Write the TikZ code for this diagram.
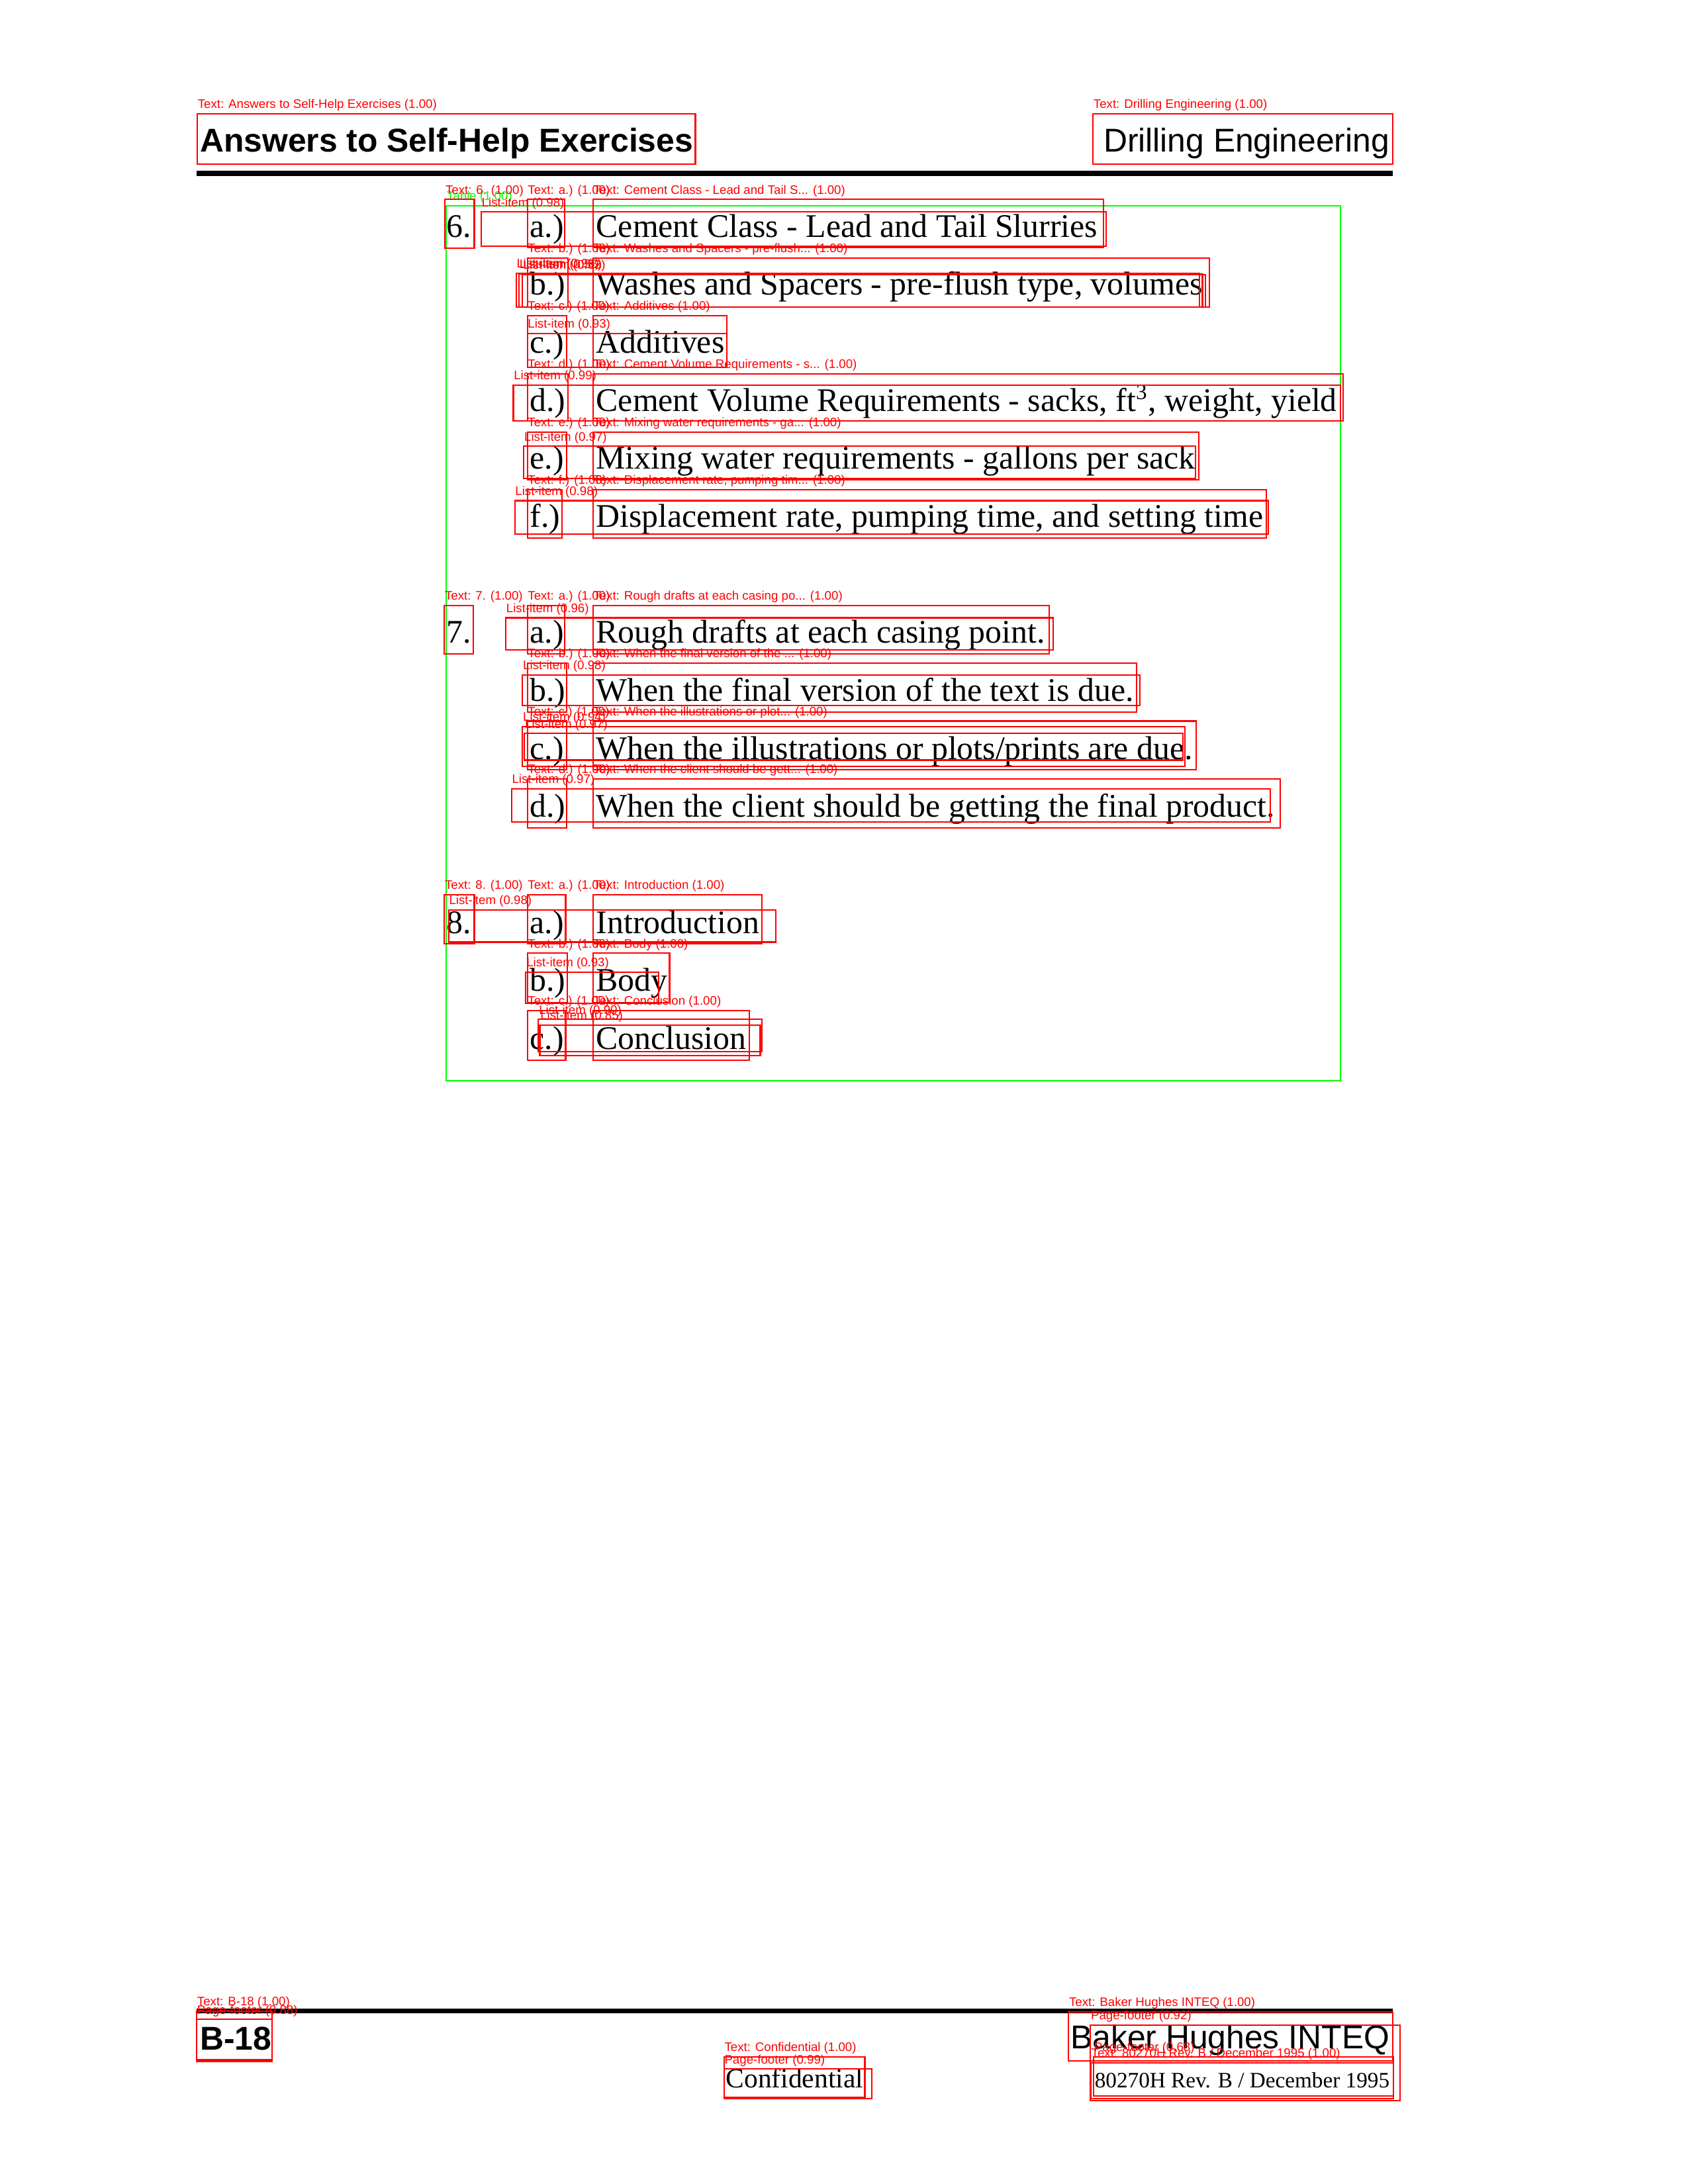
\documentclass[tikz,border=0pt]{standalone}
\usepackage{fontspec}
\setmainfont{Liberation Serif}
\newfontfamily\helv{Liberation Sans}
\newcommand{\labfont}{\helv\fontsize{4.5}{4.5}\selectfont}
\newcommand{\bodyfont}{\fontsize{12}{14}\selectfont}
% detection box: top left, bottom right, label name, label text
\newcommand{\dbox}[4]{\draw[detbox] (#1) rectangle (#2); \node[detlab] (#3) at (#1) {#4};}

\begin{document}
\begin{tikzpicture}[x=0.017843cm,y=-0.017843cm,
  body/.style={anchor=base west,inner sep=0,font=\bodyfont},
  detbox/.style={draw=red,line width=.5pt},
  detlab/.style={anchor=base west,inner sep=0,yshift=2pt,text=red,font=\labfont}]
\useasboundingbox (0,0) rectangle (1210,1566);
% page header
\node[anchor=base west,inner sep=0,font=\helv\bfseries\bodyfont] (title) at (143,108.7) {Answers to Self-Help Exercises};
\node[anchor=base east,inner sep=0,font=\helv\bodyfont] (course) at (996.5,108.7) {Drilling Engineering};
\draw[line width=1.75pt] (141,124.3)--(998.5,124.3);
% answers 6
\node[body] (n6) at (319.5,170) {6.};
\node[body] (l6a) at (379.5,170) {a.)};
\node[body] (t6a) at (427,170) {Cement Class - Lead and Tail Slurries};
\node[body] (l6b) at (379.5,211.6) {b.)};
\node[body] (t6b) at (427,211.6) {Washes and Spacers - pre-flush type, volumes};
\node[body] (l6c) at (379.5,253.2) {c.)};
\node[body] (t6c) at (427,253.2) {Additives};
\node[body] (l6d) at (379.5,294.8) {d.)};
\node[body] (t6d) at (427,294.8) {Cement Volume Requirements - sacks, ft\textsuperscript{3}, weight, yield};
\node[body] (l6e) at (379.5,336.4) {e.)};
\node[body] (t6e) at (427,336.4) {Mixing water requirements - gallons per sack};
\node[body] (l6f) at (379.5,378) {f.)};
\node[body] (t6f) at (427,378) {Displacement rate, pumping time, and setting time};
% answers 7
\node[body] (n7) at (319.5,461.2) {7.};
\node[body] (l7a) at (379.5,461.2) {a.)};
\node[body] (t7a) at (427,461.2) {Rough drafts at each casing point.};
\node[body] (l7b) at (379.5,502.8) {b.)};
\node[body] (t7b) at (427,502.8) {When the final version of the text is due.};
\node[body] (l7c) at (379.5,544.4) {c.)};
\node[body] (t7c) at (427,544.4) {When the illustrations or plots/prints are due.};
\node[body] (l7d) at (379.5,586) {d.)};
\node[body] (t7d) at (427,586) {When the client should be getting the final product.};
% answers 8
\node[body] (n8) at (319.5,669.2) {8.};
\node[body] (l8a) at (379.5,669.2) {a.)};
\node[body] (t8a) at (427,669.2) {Introduction};
\node[body] (l8b) at (379.5,710.8) {b.)};
\node[body] (t8b) at (427,710.8) {Body};
\node[body] (l8c) at (379.5,752.4) {c.)};
\node[body] (t8c) at (427,752.4) {Conclusion};
% page footer
\draw[line width=1.75pt] (141,1442)--(998.5,1442);
\node[anchor=base west,inner sep=0,font=\helv\bfseries\bodyfont] (page) at (143,1469.8) {B-18};
\node[anchor=base west,inner sep=0,font=\fontsize{10}{12}\selectfont] (conf) at (520,1497) {Confidential};
\node[anchor=base east,inner sep=0,font=\helv\bodyfont] (firm) at (996.5,1469) {Baker Hughes INTEQ};
\node[anchor=base east,inner sep=0,font=\fontsize{8}{10}\selectfont] (rev) at (996.5,1497) {80270H Rev. B / December 1995};
% detections
\dbox{141.4,81.5}{498.5,117.6}{d1}{Text: Answers to Self-Help Exercises (1.00)}
\dbox{783.5,81.5}{998.6,117.6}{d2}{Text: Drilling Engineering (1.00)}
\draw[draw=green,line width=.5pt] (320,147.6) rectangle (961,775);
\node[detlab,text=green] (dtab) at (320,147.6) {Table (1.00)};
\dbox{319,143}{340,178}{d3}{Text: 6. (1.00)}
\dbox{378,143}{405,177.5}{d4}{Text: a.) (1.00)}
\dbox{425,143}{791,177.5}{d5}{Text: Cement Class - Lead and Tail S... (1.00)}
\dbox{345,152}{793,176.5}{d6}{List-item (0.98)}
\dbox{378,185}{407,220}{d7}{Text: b.) (1.00)}
\dbox{425,185}{867,220}{d8}{Text: Washes and Spacers - pre-flush... (1.00)}
\dbox{370,196}{860,220}{d9}{List-item (0.98)}
\dbox{372,196.5}{862,220}{d10}{List-item (0.56)}
\dbox{374.5,197}{864,220}{d11}{List-item (0.53)}
\dbox{378,226.5}{406,263.5}{d12}{Text: c.) (1.00)}
\dbox{425,226.5}{521,263.5}{d13}{Text: Additives (1.00)}
\dbox{378,239}{521,263.5}{d14}{List-item (0.93)}
\dbox{378,268}{407,302}{d15}{Text: d.) (1.00)}
\dbox{425,268}{963,302}{d16}{Text: Cement Volume Requirements - s... (1.00)}
\dbox{368,276}{961,302}{d17}{List-item (0.99)}
\dbox{378,310}{406,344}{d18}{Text: e.) (1.00)}
\dbox{425,310}{859.6,344}{d19}{Text: Mixing water requirements - ga... (1.00)}
\dbox{375.5,320}{857,343}{d20}{List-item (0.97)}
\dbox{378,351}{403,386}{d21}{Text: f.) (1.00)}
\dbox{425,351}{908,386}{d22}{Text: Displacement rate, pumping tim... (1.00)}
\dbox{369,359}{909,383}{d23}{List-item (0.98)}
\dbox{318.5,434}{339.5,469}{d24}{Text: 7. (1.00)}
\dbox{378,434}{405,469}{d25}{Text: a.) (1.00)}
\dbox{425,434}{752,469}{d26}{Text: Rough drafts at each casing po... (1.00)}
\dbox{362.6,443}{755,466}{d27}{List-item (0.96)}
\dbox{378,475.5}{406,510.7}{d28}{Text: b.) (1.00)}
\dbox{425,475.5}{815,510.7}{d29}{Text: When the final version of the ... (1.00)}
\dbox{374.6,484}{817,506}{d30}{List-item (0.98)}
\dbox{378,517}{406,552}{d31}{Text: c.) (1.00)}
\dbox{425,517}{857.7,552}{d32}{Text: When the illustrations or plot... (1.00)}
\dbox{374.6,521}{849.6,549.6}{d33}{List-item (0.94)}
\dbox{376,526}{848,545}{d34}{List-item (0.97)}
\dbox{378,558.6}{406,593.7}{d35}{Text: d.) (1.00)}
\dbox{425,558.6}{917.7,593.7}{d36}{Text: When the client should be gett... (1.00)}
\dbox{366.7,565.7}{910.6,589.5}{d37}{List-item (0.97)}
\dbox{318.5,641.6}{340,676.8}{d38}{Text: 8. (1.00)}
\dbox{378,641.6}{405.5,676.8}{d39}{Text: a.) (1.00)}
\dbox{425,641.6}{546,676.8}{d40}{Text: Introduction (1.00)}
\dbox{321.6,652.6}{556,675.5}{d41}{List-item (0.98)}
\dbox{378,683.5}{406.5,719}{d42}{Text: b.) (1.00)}
\dbox{425,683.5}{480,719}{d43}{Text: Body (1.00)}
\dbox{377,697}{472,719.5}{d44}{List-item (0.93)}
\dbox{378,724.7}{405.5,760}{d45}{Text: c.) (1.00)}
\dbox{425,724.7}{537,760}{d46}{Text: Conclusion (1.00)}
\dbox{386,731}{546,754}{d47}{List-item (0.90)}
\dbox{387,735}{545,757}{d48}{List-item (0.85)}
\dbox{141,1442}{195,1478}{d49}{Text: B-18 (1.00)}
\dbox{141,1448}{195,1477}{d50}{Page-footer (0.88)}
\dbox{519,1475}{620,1503.7}{d51}{Text: Confidential (1.00)}
\dbox{519,1483.6}{625,1504.6}{d52}{Page-footer (0.99)}
\dbox{766,1442.5}{998.6,1477.6}{d53}{Text: Baker Hughes INTEQ (1.00)}
\dbox{781.7,1452}{1003.5,1506}{d54}{Page-footer (0.92)}
\dbox{784,1475}{999,1503}{d55}{Page-footer (0.68)}
\dbox{782,1479}{999,1504.6}{d56}{Text: 80270H Rev. B / December 1995 (1.00)}
\end{tikzpicture}
\end{document}
